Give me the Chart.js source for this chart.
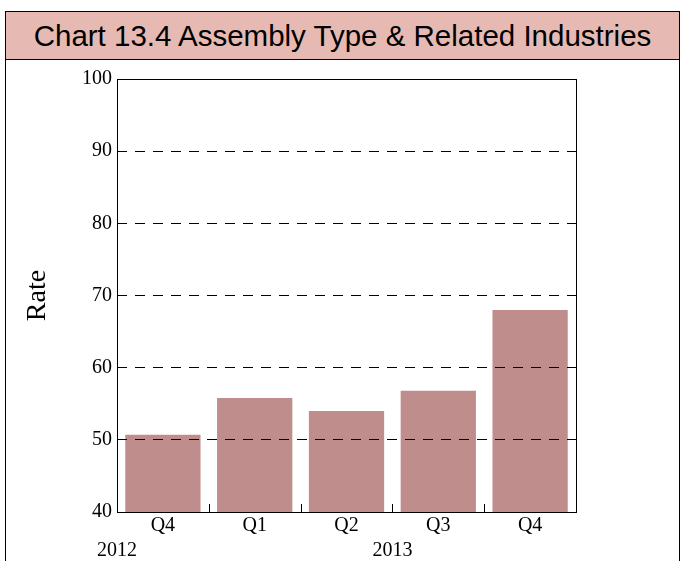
<!DOCTYPE html>
<html>
<head>
<meta charset="utf-8">
<script src="https://cdn.jsdelivr.net/npm/chart.js@4/dist/chart.umd.min.js"></script>
<style>
  html, body { margin: 0; padding: 0; background: #fff; }
  body { width: 686px; height: 561px; overflow: hidden; position: relative; }
  #frame {
    position: absolute; left: 5px; top: 11px; width: 675px; height: 560px;
    border: 1px solid #000; border-bottom: none; box-sizing: border-box;
  }
  #title {
    height: 47px; background: #e6bab3; border-bottom: 1px solid #000;
    font-family: "Liberation Sans", Arial, sans-serif; font-size: 29.5px;
    line-height: 48px; text-align: center; color: #000;
  }
  #wrap { position: relative; width: 673px; height: 502px; }
</style>
</head>
<body>
<div id="frame">
  <div id="title">Chart 13.4 Assembly Type &amp; Related Industries</div>
  <div id="wrap"><canvas id="chart"></canvas></div>
</div>
<script>
// データ
const quarters = ['Q4', 'Q1', 'Q2', 'Q3', 'Q4'];
const rates = [50.7, 55.8, 54.0, 56.8, 68.0];
const yearLabels = ['2012', '2013'];
const yearPos = [-0.5, 2.5]; // カテゴリ番号での位置
const yTicks = [40, 50, 60, 70, 80, 90, 100];

const SERIF = '"Liberation Serif", "Times New Roman", serif';
const BAR_COLOR = '#bf8d8b';

// 枠・内向き目盛り・年ラベルを描く
const framePlugin = {
  id: 'frame',
  afterDraw(chart) {
    const ctx = chart.ctx;
    const a = chart.chartArea;
    const xs = chart.scales.x;
    ctx.save();
    ctx.strokeStyle = '#000';
    ctx.lineWidth = 1;
    ctx.setLineDash([]);
    ctx.strokeRect(Math.round(a.left) + 0.5, Math.round(a.top) + 0.5,
      Math.round(a.right - a.left), Math.round(a.bottom - a.top));
    // カテゴリ境界の内向き目盛り
    ctx.beginPath();
    for (let i = 1; i < quarters.length; i++) {
      const x = Math.round(xs.getPixelForValue(i - 0.5)) + 0.5;
      ctx.moveTo(x, a.bottom);
      ctx.lineTo(x, a.bottom - 8);
    }
    ctx.stroke();
    // 年ラベル
    ctx.fillStyle = '#000';
    ctx.font = '20px ' + SERIF;
    ctx.textAlign = 'center';
    ctx.textBaseline = 'middle';
    yearLabels.forEach((t, i) => {
      ctx.fillText(t, xs.getPixelForValue(yearPos[i]), a.bottom + 39);
    });
    ctx.restore();
  },
};

new Chart(document.getElementById('chart'), {
  type: 'bar',
  data: {
    labels: quarters,
    datasets: [{
      data: rates,
      backgroundColor: BAR_COLOR,
      borderWidth: 0,
      barPercentage: 0.82,
      categoryPercentage: 1,
    }],
  },
  options: {
    responsive: true,
    maintainAspectRatio: false,
    animation: false,
    layout: { padding: { top: 19, right: 103, left: 0, bottom: 0 } },
    plugins: { legend: { display: false }, tooltip: { enabled: false } },
    scales: {
      x: {
        grid: { display: false, drawTicks: false },
        border: { display: false },
        ticks: { color: '#000', font: { family: SERIF, size: 20 }, padding: 2, maxRotation: 0 },
        afterFit(s) { s.height = 50; },
      },
      y: {
        min: 40,
        max: 100,
        afterBuildTicks(s) { s.ticks = yTicks.map(v => ({ value: v })); },
        grid: {
          color: '#000',
          lineWidth: 1,
          drawTicks: false,
          z: 1,
        },
        border: { display: false, dash: [10, 8] },
        ticks: { color: '#000', font: { family: SERIF, size: 20 }, padding: 5 },
        title: {
          display: true,
          text: 'Rate',
          color: '#000',
          font: { family: SERIF, size: 28 },
          padding: { top: 15, bottom: 0 },
        },
        afterFit(s) { s.width = 111; },
      },
    },
  },
  plugins: [framePlugin],
});
</script>
</body>
</html>
